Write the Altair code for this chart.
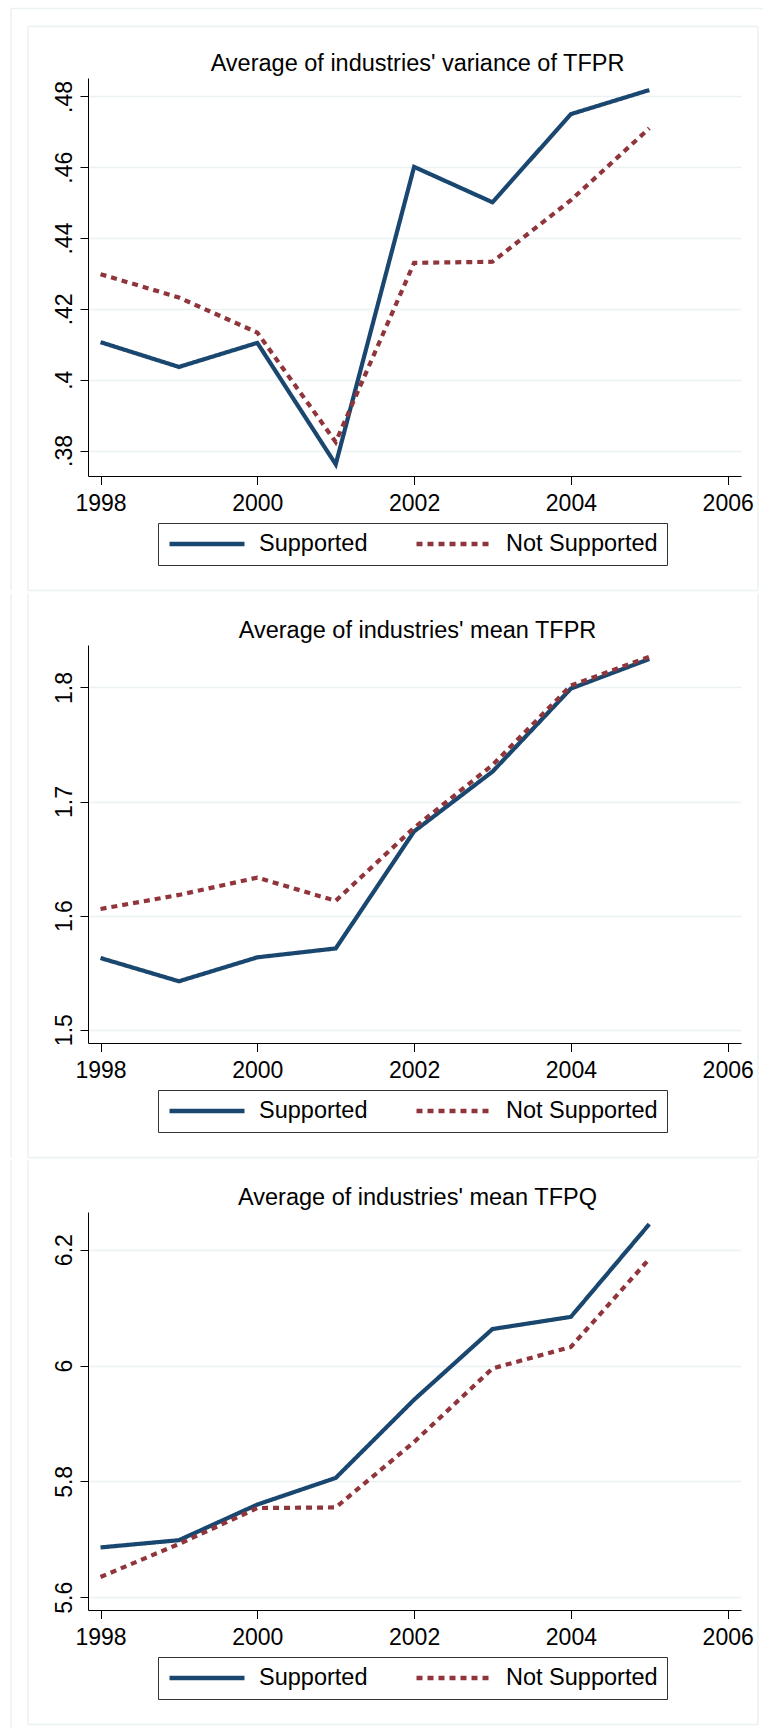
import altair as alt
import pandas as pd

# Years observed and the two firm groups
YEARS = [1998, 1999, 2000, 2001, 2002, 2003, 2004, 2005]
GROUPS = ["Supported", "Not Supported"]

# Average of industries' variance of TFPR
VAR_TFPR_SUPPORTED = [0.4106, 0.4036, 0.4104, 0.3761, 0.4601, 0.4501, 0.4750, 0.4818]
VAR_TFPR_NOT = [0.4298, 0.4232, 0.4133, 0.3824, 0.4330, 0.4333, 0.4507, 0.4710]

# Average of industries' mean TFPR
MEAN_TFPR_SUPPORTED = [1.5628, 1.5424, 1.5634, 1.5712, 1.6738, 1.7262, 1.7990, 1.8249]
MEAN_TFPR_NOT = [1.6058, 1.6181, 1.6333, 1.6129, 1.6770, 1.7320, 1.8016, 1.8269]

# Average of industries' mean TFPQ
MEAN_TFPQ_SUPPORTED = [5.686, 5.6985, 5.760, 5.806, 5.941, 6.063, 6.084, 6.244]
MEAN_TFPQ_NOT = [5.635, 5.692, 5.754, 5.755, 5.868, 5.995, 6.032, 6.184]

TITLES = [
    "Average of industries' variance of TFPR",
    "Average of industries' mean TFPR",
    "Average of industries' mean TFPQ",
]

X_TICKS = [1998, 2000, 2002, 2004, 2006]
Y_TICKS_VAR = [0.38, 0.40, 0.42, 0.44, 0.46, 0.48]
Y_TICKS_TFPR = [1.5, 1.6, 1.7, 1.8]
Y_TICKS_TFPQ = [5.6, 5.8, 6.0, 6.2]

NAVY = "#1a476f"
MAROON = "#90353b"
FRAME = "#eaf2f3"
FONT = "Liberation Sans"

PLOT_W = 653
PLOT_H = 398
X_DOMAIN = [1997.84, 2006.17]

ONE = pd.DataFrame({"k": [0]})


def long_table(supported, not_supported):
    return pd.DataFrame({
        "year": YEARS + YEARS,
        "value": list(supported) + list(not_supported),
        "group": [GROUPS[0]] * len(YEARS) + [GROUPS[1]] * len(YEARS),
    })


def vrule(x, y0, y1):
    return alt.Chart(ONE).mark_rule(color=FRAME, strokeWidth=1.5).encode(
        x=alt.value(x), y=alt.value(y0), y2=alt.value(y1))


def hrule(y, x0, x1):
    return alt.Chart(ONE).mark_rule(color=FRAME, strokeWidth=1.5).encode(
        y=alt.value(y), x=alt.value(x0), x2=alt.value(x1))


def panel(title, supported, not_supported, y_domain, y_ticks, y_label_expr,
          first=False, last=False):
    data = long_table(supported, not_supported)

    def legend():
        return alt.Legend(
            title=None, orient="none", legendX=70, legendY=445,
            direction="horizontal", symbolType="stroke", symbolSize=5625,
            symbolStrokeWidth=4.3, clipHeight=24, labelFont=FONT,
            labelFontSize=23.5, labelColor="black", labelOffset=12,
            columnPadding=46, padding=9, strokeColor="#333333",
            fillColor="white")

    lines = alt.Chart(data).mark_line(strokeWidth=4.2).encode(
        x=alt.X("year:Q",
                scale=alt.Scale(domain=X_DOMAIN, nice=False, zero=False),
                axis=alt.Axis(values=X_TICKS, format="d", title=None,
                              grid=False, tickSize=8.5, labelPadding=7.5,
                              labelFlush=False, labelOverlap=False)),
        y=alt.Y("value:Q",
                scale=alt.Scale(domain=y_domain, nice=False, zero=False),
                axis=alt.Axis(values=y_ticks, labelExpr=y_label_expr,
                              title=None, grid=True, labelAngle=270,
                              labelAlign="center", labelBaseline="alphabetic",
                              labelPadding=9, tickSize=8, labelFlush=False,
                              labelOverlap=False)),
        color=alt.Color("group:N",
                        scale=alt.Scale(domain=GROUPS, range=[NAVY, MAROON]),
                        legend=legend()),
        strokeDash=alt.StrokeDash("group:N",
                                  scale=alt.Scale(domain=GROUPS,
                                                  range=[[1, 0], [6, 5]]),
                                  legend=legend()),
    )

    heading = alt.Chart(ONE).mark_text(
        align="center", baseline="alphabetic", font=FONT, fontSize=23.5,
        color="black").encode(
        x=alt.value(329.5), y=alt.value(-7), text=alt.value(title))

    # panel frame, plus the outer graph border on the left (and top)
    outer_top = -69.5 if first else -51.5
    bottom_end = 518 if last else 512.5
    frames = [
        vrule(-60, -51.5, 512.5),
        vrule(670, -51.5, 512.5),
        hrule(512.5, -60, 670),
        vrule(-77, outer_top, bottom_end),
    ]
    if first:
        frames.append(hrule(-51.5, -60, 670))
        frames.append(hrule(-69.5, -77, 675))

    return alt.layer(*frames, lines, heading).properties(
        width=PLOT_W, height=PLOT_H)


p1 = panel(TITLES[0], VAR_TFPR_SUPPORTED, VAR_TFPR_NOT, [0.3728, 0.4852],
           Y_TICKS_VAR, "replace(format(datum.value, '.2~f'), '0.', '.')",
           first=True)
p2 = panel(TITLES[1], MEAN_TFPR_SUPPORTED, MEAN_TFPR_NOT, [1.4883, 1.8372],
           Y_TICKS_TFPR, "format(datum.value, '.1f')")
p3 = panel(TITLES[2], MEAN_TFPQ_SUPPORTED, MEAN_TFPQ_NOT, [5.578, 6.265],
           Y_TICKS_TFPQ, "format(datum.value, '~g')", last=True)

chart = (
    alt.vconcat(p1, p2, p3, spacing=0)
    .resolve_scale(color="independent", strokeDash="independent")
    .resolve_legend(color="independent", strokeDash="independent")
    .properties(padding={"left": 10, "top": 7, "right": 0, "bottom": 0},
                background="white")
    .configure(font=FONT)
    .configure_view(strokeWidth=0)
    .configure_axis(domainColor="black", tickColor="black",
                    labelColor="black", labelFont=FONT, labelFontSize=23,
                    domainWidth=1, tickWidth=1, gridColor=FRAME, gridWidth=1.5)
)

chart.save("out.html", embed_options={"renderer": "svg", "actions": False})
